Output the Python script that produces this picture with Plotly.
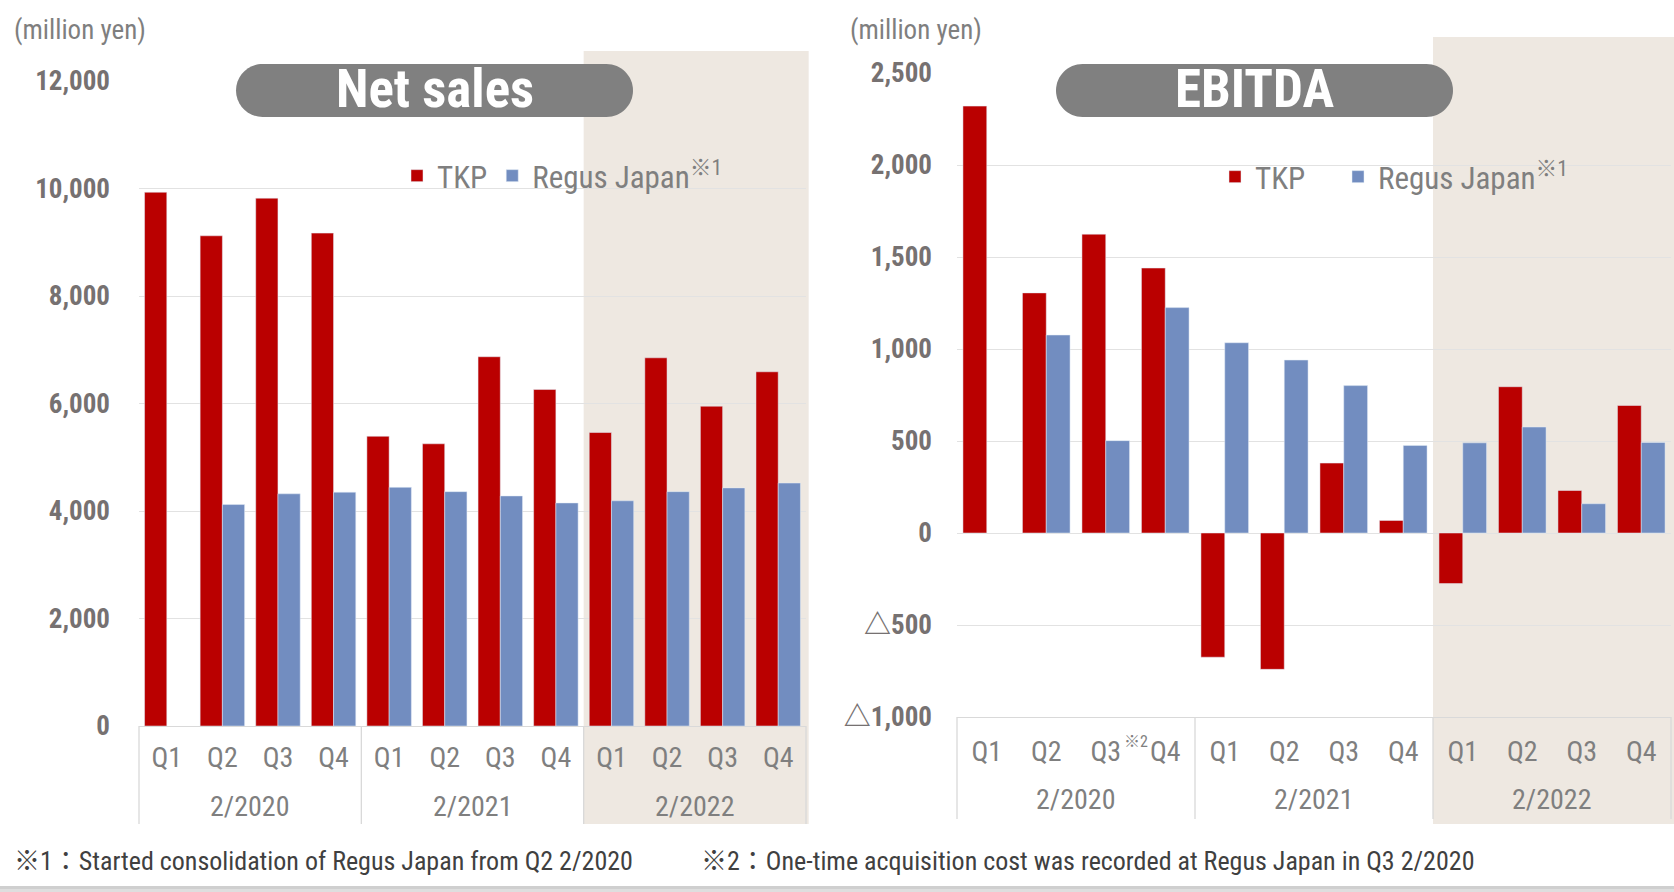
import plotly.graph_objects as go

# ---------------- data ----------------
years = ["2/2020"] * 4 + ["2/2021"] * 4 + ["2/2022"] * 4
quarters = ["Q1", "Q2", "Q3", "Q4"] * 3
year_groups = ["2/2020", "2/2021", "2/2022"]

sales_tkp = [9930, 9120, 9820, 9170, 5390, 5250, 6870, 6260, 5460, 6850, 5950, 6590]
sales_regus = [None, 4120, 4320, 4350, 4440, 4360, 4280, 4150, 4190, 4360, 4430, 4520]

ebitda_tkp = [2320, 1305, 1624, 1440, -675, -741, 380, 68, -275, 795, 231, 693]
ebitda_regus = [None, 1076, 502, 1225, 1034, 940, 801, 476, 490, 576, 159, 492]

sales_ticks = [0, 2000, 4000, 6000, 8000, 10000, 12000]
sales_ticktext = ["0", "2,000", "4,000", "6,000", "8,000", "10,000", "12,000"]
ebitda_ticks = [-1000, -500, 0, 500, 1000, 1500, 2000, 2500]
ebitda_ticktext = ["△1,000", "△500", "0", "500", "1,000", "1,500", "2,000", "2,500"]

# category keys (unique per quarter), displayed as Q1..Q4
cats = [f"{y} {q}" for y, q in zip(years, quarters)]

# ---------------- style ----------------
W, H = 1674, 892
RED = "#BA0000"
BLUE = "#728DC0"
BEIGE = "#EEE8E1"
GRID = "#E2E2E2"
TXT = "#7F7F7F"
FONT = "Liberation Sans Narrow, Roboto Condensed, Roboto, Noto Sans CJK JP, sans-serif"


def px(x):
    return min(1.0, max(0.0, x / W))


def py(y):
    return 1 - y / H


# plot areas in page pixels
L_X0, L_X1, L_Y0, L_Y1 = 139, 806, 726, 81
R_X0, R_X1, R_Y0, R_Y1 = 957, 1671, 717, 73

fig = go.Figure()

fig.add_trace(go.Bar(x=cats, y=sales_tkp, name="TKP", marker_color=RED,
                     xaxis="x", yaxis="y", legend="legend"))
fig.add_trace(go.Bar(x=cats, y=sales_regus, name="Regus Japan<sup>※1</sup>", marker_color=BLUE,
                     xaxis="x", yaxis="y", legend="legend"))
fig.add_trace(go.Bar(x=cats, y=ebitda_tkp, name="TKP", marker_color=RED,
                     xaxis="x2", yaxis="y2", legend="legend2"))
fig.add_trace(go.Bar(x=cats, y=ebitda_regus, name="Regus Japan<sup>※1</sup>", marker_color=BLUE,
                     xaxis="x2", yaxis="y2", legend="legend3"))

xaxis_common = dict(
    type="category",
    automargin=False,
    showgrid=False,
    showline=True,
    linecolor="#D9D9D9",
    linewidth=1.3,
    ticks="",
    tickvals=cats,
    ticktext=quarters,
    tickfont=dict(family=FONT, size=28, color=TXT),
)
yaxis_common = dict(
    automargin=False,
    showgrid=True,
    gridcolor=GRID,
    gridwidth=1.3,
    zeroline=True,
    zerolinecolor=GRID,
    zerolinewidth=1.3,
    showline=False,
    ticks="",
    tickfont=dict(family=FONT, size=27, color="#767171", weight="bold"),
)
legend_common = dict(orientation="h", xanchor="left", yanchor="middle",
                     bgcolor="rgba(0,0,0,0)", font=dict(family=FONT, size=31, color=TXT),
                     itemclick=False, itemdoubleclick=False)

fig.update_layout(
    width=W,
    height=H,
    margin=dict(l=0, r=0, t=0, b=0, autoexpand=False),
    paper_bgcolor="white",
    plot_bgcolor="rgba(0,0,0,0)",
    barmode="group",
    bargap=0.2,
    bargroupgap=0,
    hovermode=False,
    font=dict(family=FONT, color=TXT),
    xaxis=dict(domain=[px(L_X0), px(L_X1)], anchor="y", ticklabelstandoff=6, **xaxis_common),
    yaxis=dict(domain=[py(L_Y0), py(L_Y1)], anchor="x", range=[0, 12000],
               tickvals=sales_ticks, ticktext=sales_ticktext, ticklabelstandoff=28,
               **yaxis_common),
    xaxis2=dict(domain=[px(R_X0), px(R_X1)], anchor="y2", ticklabelstandoff=9, **xaxis_common),
    yaxis2=dict(domain=[py(R_Y0), py(R_Y1)], anchor="x2", range=[-1000, 2500],
                tickvals=ebitda_ticks, ticktext=ebitda_ticktext, ticklabelstandoff=24,
                **yaxis_common),
    legend=dict(x=px(397), y=py(176), **legend_common),
    legend2=dict(x=px(1215), y=py(177), **legend_common),
    legend3=dict(x=px(1338), y=py(177), **legend_common),
    showlegend=True,
)


def pill(cx, cy, w, h):
    r = h / 2
    a = w / 2 - r
    k = 0.5523 * r
    path = (f"M {-a},{-r} L {a},{-r} "
            f"C {a + k},{-r} {a + r},{-k} {a + r},0 "
            f"C {a + r},{k} {a + k},{r} {a},{r} "
            f"L {-a},{r} "
            f"C {-a - k},{r} {-a - r},{k} {-a - r},0 "
            f"C {-a - r},{-k} {-a - k},{-r} {-a},{-r} Z")
    return dict(type="path", xref="paper", yref="paper", xsizemode="pixel", ysizemode="pixel",
                xanchor=px(cx), yanchor=py(cy), path=path, fillcolor="#808080",
                line=dict(width=0), layer="above")


def group_dividers(xref, yref, y_bottom):
    out = []
    for k in range(len(year_groups) + 1):
        out.append(dict(type="line", xref=xref, yref=yref, x0=k / len(year_groups),
                        x1=k / len(year_groups), y0=0, y1=y_bottom,
                        line=dict(color="#D9D9D9", width=1.3), layer="above"))
    return out


shapes = [
    # shaded 2/2022 areas
    dict(type="rect", xref="x domain", yref="y domain", x0=8 / 12, x1=1.004,
         y0=(L_Y0 - 824) / (L_Y0 - L_Y1), y1=(L_Y0 - 51) / (L_Y0 - L_Y1),
         fillcolor=BEIGE, line=dict(width=0), layer="below"),
    dict(type="rect", xref="x2 domain", yref="y2 domain", x0=8 / 12, x1=1.03,
         y0=(R_Y0 - 824) / (R_Y0 - R_Y1), y1=(R_Y0 - 37) / (R_Y0 - R_Y1),
         fillcolor=BEIGE, line=dict(width=0), layer="below"),
    pill(434.5, 90.5, 397, 53),
    pill(1254.5, 90.5, 397, 53),
    # bottom grey strip
    dict(type="rect", xref="paper", yref="paper", x0=0, x1=1, y0=py(889), y1=py(886),
         fillcolor="#CFCFCF", line=dict(width=0), layer="above"),
    dict(type="rect", xref="paper", yref="paper", x0=0, x1=1, y0=0, y1=py(889),
         fillcolor="#DEDEDE", line=dict(width=0), layer="above"),
]
shapes += group_dividers("x domain", "y domain", (L_Y0 - 824) / (L_Y0 - L_Y1))
shapes += group_dividers("x2 domain", "y2 domain", (R_Y0 - 819) / (R_Y0 - R_Y1))
fig.update_layout(shapes=shapes)

annotations = [
    dict(text="<b>Net sales</b>", x=px(434.5), y=py(89), xref="paper", yref="paper",
         xanchor="center", yanchor="middle", showarrow=False,
         font=dict(family=FONT, size=53, color="white")),
    dict(text="<b>EBITDA</b>", x=px(1254.5), y=py(89), xref="paper", yref="paper",
         xanchor="center", yanchor="middle", showarrow=False,
         font=dict(family=FONT, size=53, color="white")),
    dict(text="(million yen)", x=px(12), y=py(30), xref="paper", yref="paper",
         xanchor="left", yanchor="middle", showarrow=False,
         font=dict(family=FONT, size=27, color=TXT)),
    dict(text="(million yen)", x=px(848), y=py(30), xref="paper", yref="paper",
         xanchor="left", yanchor="middle", showarrow=False,
         font=dict(family=FONT, size=27, color=TXT)),
    dict(text="※2", x=3 / 12, y=py(741), xref="x2 domain", yref="paper",
         xanchor="center", yanchor="middle",
         showarrow=False, font=dict(family=FONT, size=16, color=TXT)),
    dict(text="※1：Started consolidation of Regus Japan from Q2 2/2020", x=px(12), y=py(861),
         xref="paper", yref="paper", xanchor="left", yanchor="middle", showarrow=False,
         font=dict(family=FONT, size=26, color="#404040")),
    dict(text="※2：One-time acquisition cost was recorded at Regus Japan in Q3 2/2020", x=px(699),
         y=py(861), xref="paper", yref="paper", xanchor="left", yanchor="middle", showarrow=False,
         font=dict(family=FONT, size=26, color="#404040")),
]
n = len(year_groups)
for i, g in enumerate(year_groups):
    annotations.append(dict(text=g, x=(2 * i + 1) / (2 * n), y=py(806), xref="x domain",
                            yref="paper", xanchor="center", yanchor="middle", showarrow=False,
                            font=dict(family=FONT, size=28, color=TXT)))
    annotations.append(dict(text=g, x=(2 * i + 1) / (2 * n), y=py(799), xref="x2 domain",
                            yref="paper", xanchor="center", yanchor="middle", showarrow=False,
                            font=dict(family=FONT, size=28, color=TXT)))
fig.update_layout(annotations=annotations)

# place the figure flush with the page corner (remove the default body margin)
fig.write_html("out.html", config={"displayModeBar": False},
               post_script="document.body.style.margin='0';document.body.style.overflow='hidden';")
